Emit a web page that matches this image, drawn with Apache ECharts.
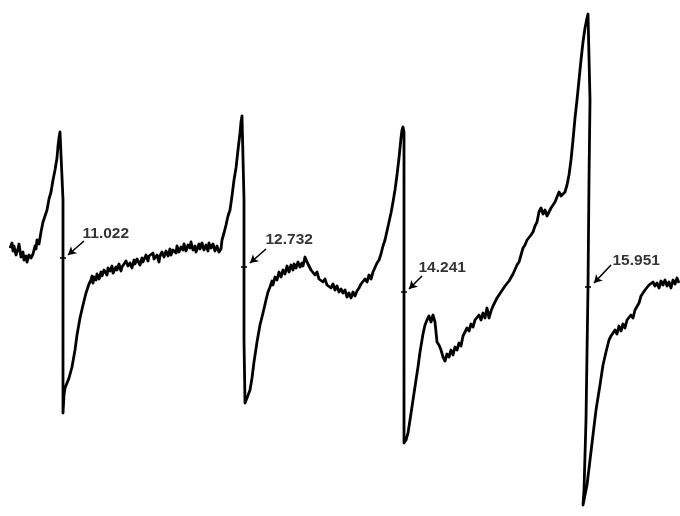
<!DOCTYPE html>
<html>
<head>
<meta charset="utf-8">
<script src="https://cdn.jsdelivr.net/npm/echarts@6/dist/echarts.min.js"></script>
<style>
  html, body { margin: 0; padding: 0; background: #fff; }
</style>
</head>
<body>
<!-- chart container, same size as the window -->
<div id="main" style="width: 680px;height:516px;"></div>
<script>
// trace: [x, y] in sheet units (y grows downward)
var lineA = [[10,248],[12,243],[13,251],[14,246],[16,255],[18,249],[19,244],[21,257],[23,252],[24,260],[26,256],[27,262],[29,255],[31,258],[33,254],[35,246],[36,249],[37,240],[39,244],[41,232],[43,222],[45,216],[47,210],[49,199],[51,192],[53,180],[55,170],[57,158],[58,146],[59,138],[60,132],[61,130],[62,132],
  [63,200],[63,258],[63,330],[63,413],[64,395],[65,388],[67,383],[69,378],[72,367],[75,350],[77,335],[80,318],[83,305],[86,293],[89,284],[91,280],[92,276]]
var lineB = [[93,283],[94,277],[96,280],[97,274],[99,279],[101,272],[102,276],[104,270],[107,275],[108,268],[110,271],[112,266],[113,273],[116,267],[117,270],[119,264],[121,271],[122,267],[124,269],[126,261],[128,266],[130,263],[132,268],[134,260],[135,264],[137,259],[140,265],[142,258],[143,262],[146,255],[148,261],[149,256],[151,258],[153,253],[154,259],[157,255],[159,262],[160,256],[162,252],[164,257],[166,251],[168,256],[170,249],[171,255],[173,250],[176,253],[177,246],[179,252],[181,247],[183,250],[184,244],[186,251],[188,245],[190,248],[191,242],[193,250],[195,246],[196,252],[199,244],[200,249],[202,243],[204,250],[206,245],[208,251],[209,243],[211,248],[213,244],[215,251],[217,246],[219,252],[221,249],[222,240]]
var lineC = [[224,233],[226,225],[228,216],[230,210],[232,196],[234,180],[236,168],[238,150],[240,133],[241,122],[242,116],[243,118],
  [244,200],[244,267],[244,340],[245,403],[247,398],[250,390],[252,378],[254,362],[257,342],[260,325],[263,313],[266,300],[268,292],[270,287]]
var lineD = [[272,281],[273,285],[275,277],[277,280],[279,272],[281,277],[283,270],[285,274],[287,266],[289,272],[291,265],[293,270],[294,264],[296,268],[298,262],[300,267],[302,263],[303,266],[305,257],[307,262],[309,266],[311,270],[313,269],[315,275],[317,272],[319,279],[321,277],[323,282],[325,279],[327,285],[329,283],[331,288],[333,284],[335,290],[337,286],[339,292],[341,289],[343,293],[345,290],[347,297],[349,293],[351,298],[353,292],[355,296],[357,291],[359,288],[361,284],[363,286],[365,279],[367,282],[369,275],[371,279],[373,272],[375,271],[377,263],[379,260],[381,254],[383,246],[385,240],[387,231],[389,222],[391,213],[393,202],[395,190],[397,175],[399,158],[400,148],[401,138],[402,130],[403,127],[404,132]]
var lineE = [[404,250],[404,292],[404,350],[404,443],[406,440],[408,433],[410,420],[413,400],[416,380],[418,367],[420,352],[423,334],[425,325],[427,320],[429,316],[431,322],[433,315],[435,322],[436,332],[437,342],[439,345],[441,350],[443,357],[445,361],[447,354],[449,357],[451,350],[453,355],[455,347],[457,350],[459,343],[461,346],[463,336],[465,338],[467,328],[469,331],[471,324],[473,327],[475,320],[477,322],[479,315],[481,320],[483,313],[485,318],[487,308],[489,318],[491,311],[493,306],[495,302],[497,298],[499,300],[501,292],[503,294],[505,286],[507,288],[509,281],[511,282],[513,274],[515,276],[517,265],[519,262],[521,255],[523,248],[525,245],[527,240],[529,240],[531,235],[533,232],[535,226],[537,222],[539,212],[541,208],[543,214],[545,210],[547,216],[549,212],[551,208],[553,205],[555,202],[557,204],[559,192],[561,196],[563,198],[565,192],[567,185],[569,175],[571,160],[573,140],[575,118],[577,100],[579,80],[581,60],[583,42],[585,28],[587,18],[588,14],[589,12],[590,15]]
var lineF = [[590,100],[589,180],[588,287],[586,420],[584,490],[583,505],[585,495],[587,485],[590,460],[593,435],[596,410],[600,385],[603,365],[606,352],[609,340],[611,336],[613,338],[615,330],[617,334],[619,326],[621,331],[623,324],[625,328],[627,320],[629,318],[631,315],[633,318],[635,310],[637,312],[639,303],[641,296],[643,294],[645,290],[647,288],[649,285],[651,287],[653,282],[655,286],[657,283],[659,288],[661,281],[663,285],[665,280],[667,286],[669,282],[671,288],[673,280],[675,284],[677,278],[679,283]]

// line-centre marks and their values
var centreMarks = [[63,258],[244,267],[404,292],[588,287]]
var centreLabels = ['11.022', '12.732', '14.241', '15.951']
var labelAt = [[82,234],[265,240],[418,268],[612,261]]
var arrowFrom = [[84,241],[266,249],[422,276],[611,265]]
var arrowTo = [[68,255],[250,263],[409,289],[594,283]]

var trace = [].concat(lineA, lineB, lineC, lineD, lineE, lineF)

var myChart = echarts.init(document.getElementById('main'))
var option = {
  animation: false,
  backgroundColor: '#fff',
  grid: { left: 0, right: 0, top: 0, bottom: 0 },
  xAxis: { type: 'value', min: 0, max: 680, show: false },
  yAxis: { type: 'value', min: 0, max: 516, inverse: true, show: false },
  series: [
    {
      type: 'line',
      data: trace,
      showSymbol: false,
      lineStyle: { color: '#000', width: 2.8, join: 'round' }
    },
    {
      type: 'scatter',
      data: centreMarks,
      symbol: 'rect',
      symbolSize: [6, 2],
      itemStyle: { color: '#000' }
    },
    {
      type: 'scatter',
      data: labelAt.map(function (p, i) { return { value: p, name: centreLabels[i] } }),
      symbolSize: 1,
      itemStyle: { color: 'rgba(0,0,0,0)' },
      label: {
        show: true,
        position: 'right',
        distance: 0,
        formatter: '{b}',
        color: '#000',
        fontFamily: 'Liberation Sans',
        fontWeight: 'bold',
        fontSize: 15.5
      },
      markLine: {
        silent: true,
        symbol: ['none', 'arrow'],
        symbolSize: [7, 8],
        label: { show: false },
        lineStyle: { color: '#000', width: 1.6, type: 'solid' },
        data: arrowFrom.map(function (p, i) {
          return [{ coord: p }, { coord: arrowTo[i] }]
        })
      }
    }
  ]
}
myChart.setOption(option)
</script>
</body>
</html>
